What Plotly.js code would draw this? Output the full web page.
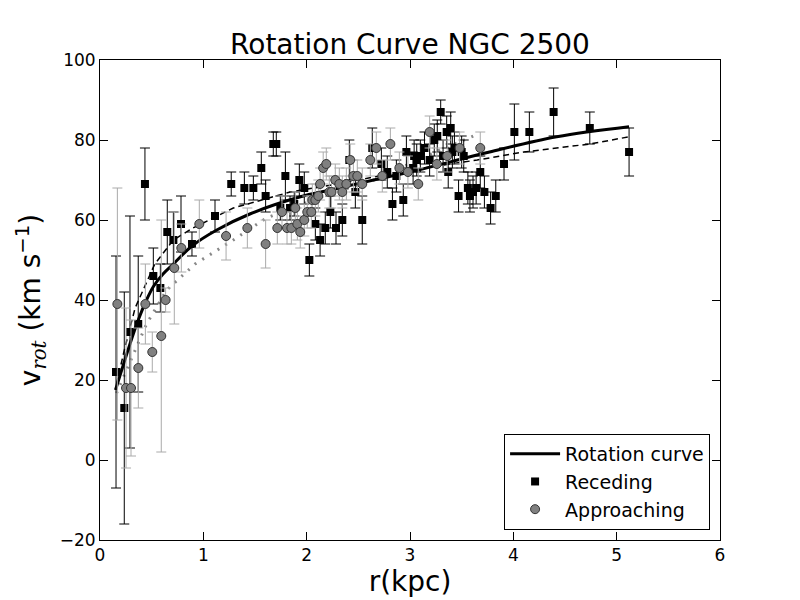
<!DOCTYPE html>
<html>
<head>
<meta charset="utf-8">
<script src="https://cdn.plot.ly/plotly-3.0.1.min.js"></script>
<style>
  html, body { margin: 0; padding: 0; background: #fff; }
  #graph { width: 800px; height: 600px; }
</style>
</head>
<body>
<div id="graph"></div>
<script>
// receding side (black squares)
var recR = [0.155, 0.235, 0.29, 0.37, 0.435, 0.516, 0.584, 0.651, 0.71, 0.784, 0.89,
  1.113, 1.27, 1.397, 1.484, 1.561, 1.603, 1.677, 1.706, 1.745, 1.794, 1.839, 1.88,
  1.929, 1.977, 2.026, 2.084, 2.13, 2.18, 2.229, 2.284, 2.345, 2.413, 2.471, 2.538,
  2.635, 2.723, 2.78, 2.83, 2.868, 2.935, 2.965, 3.03, 3.04, 3.065, 3.10, 3.14, 3.19,
  3.235, 3.264, 3.297, 3.32, 3.355, 3.37, 3.394, 3.41, 3.43, 3.47, 3.50, 3.52, 3.56,
  3.58, 3.61, 3.64, 3.68, 3.72, 3.78, 3.83, 3.91, 4.01, 4.155, 4.39, 4.74, 5.12];
var recV = [22, 13, 32, 34, 69, 46, 43, 57, 55, 59, 54,
  61, 69, 68, 68, 73, 66, 79, 79, 63, 71, 63, 64,
  70, 68, 50, 59, 55, 58, 62, 58, 60, 75, 67, 60,
  78, 74, 72, 64, 71, 65, 77, 73, 76, 75, 76, 78, 75,
  80, 81, 87, 76, 82, 72, 83, 77, 78, 66, 77, 76, 68,
  66, 67, 68, 72, 67, 63, 66, 74, 82, 82, 87, 83, 77];
var recErr = [29, 29, 29, 17, 9, 7, 6, 8, 7, 7, 3,
  4, 3, 4, 3, 4, 4, 3, 3, 3, 6, 3, 3,
  4, 4, 4, 4, 4, 4, 4, 4, 4, 5, 4, 6,
  5, 4, 4, 4, 4, 4, 4, 4, 4, 4, 4, 4, 4,
  4, 4, 3, 4, 4, 4, 4, 4, 4, 4, 4, 4, 4,
  4, 4, 4, 4, 4, 4, 4, 4, 7, 5, 6, 4, 6];

// approaching side (grey circles)
var appR = [0.168, 0.252, 0.30, 0.371, 0.439, 0.506, 0.593, 0.635, 0.719, 0.787, 0.961,
  1.22, 1.426, 1.603, 1.716, 1.761, 1.81, 1.852, 1.89, 1.91, 1.938, 1.977, 2.006,
  2.045, 2.055, 2.084, 2.113, 2.13, 2.16, 2.19, 2.219, 2.24, 2.277, 2.316, 2.345,
  2.384, 2.422, 2.452, 2.49, 2.538, 2.616, 2.674, 2.732, 2.81, 2.897, 2.98, 3.08,
  3.19, 3.26, 3.36, 3.48, 3.68];
var appV = [39, 18, 18, 23, 39, 27, 31, 40, 48, 53, 59,
  56, 58, 54, 58, 62, 58, 58, 63, 59, 57, 60, 62,
  62, 65, 65, 66, 69, 73, 74, 67, 67, 70, 69, 67,
  69, 75, 71, 71, 69, 75, 78, 71, 79, 73, 72, 69,
  82, 74, 76, 78, 78];
var appErr = [29, 20, 17, 10, 10, 5, 29, 3, 14, 6, 6,
  6, 5, 6, 4, 4, 4, 4, 4, 4, 4, 4, 4,
  4, 4, 4, 4, 4, 4, 4, 4, 4, 4, 4, 4,
  4, 4, 4, 4, 4, 4, 4, 4, 4, 4, 4, 4,
  4, 4, 4, 4, 4];

// fitted curves
var curveR = [0.15, 0.29, 0.37, 0.45, 0.52, 0.61, 0.71, 0.89, 1.13, 1.45, 1.94, 2.23, 2.68, 3.0, 3.4, 3.77, 4.42, 5.12];
var curveV = [17.5, 29, 35, 40, 43.5, 46.5, 49, 53.5, 57.5, 61.5, 65.8, 67.5, 70.2, 72, 74.6, 77, 80.8, 83.3];

var recFitR = [0.16, 0.19, 0.24, 0.34, 0.53, 0.71, 0.9, 1.29, 1.61, 1.84, 2.3, 2.7, 3.0, 3.65, 4.1, 4.74, 5.12];
var recFitV = [19, 22.5, 28, 38, 49, 55, 58, 63, 65.4, 67, 69, 71, 72.5, 75, 77, 79, 80.8];

var appFitR = [0.16, 0.32, 0.45, 0.645, 0.92, 1.29, 1.61, 2.16, 2.65, 3.29, 3.66];
var appFitV = [16.7, 26, 34, 42.5, 49, 55, 60.5, 66, 70, 77.5, 81.5];

var font = 'DejaVu Sans, sans-serif';

var traces = [
  {
    x: recFitR, y: recFitV, mode: 'lines', showlegend: false, hoverinfo: 'skip',
    line: {color: 'black', width: 1.5, dash: '6px,4px'}
  },
  {
    x: appFitR, y: appFitV, mode: 'lines', showlegend: false, hoverinfo: 'skip',
    line: {color: '#888888', width: 3, dash: '2px,7px'}
  },
  {
    x: curveR, y: curveV, mode: 'lines', name: 'Rotation curve',
    line: {color: 'black', width: 3, shape: 'spline'}
  },
  {
    x: recR, y: recV, mode: 'markers', name: 'Receding',
    marker: {symbol: 'square', size: 8, color: 'black'},
    error_y: {type: 'data', array: recErr, visible: true, color: 'black', thickness: 1, width: 5}
  },
  {
    x: appR, y: appV, mode: 'markers', name: 'Approaching',
    marker: {symbol: 'circle', size: 9, color: '#808080', line: {color: '#333333', width: 1}},
    error_y: {type: 'data', array: appErr, visible: true, color: '#aaaaaa', thickness: 1, width: 5}
  }
];

var layout = {
  width: 800,
  height: 600,
  paper_bgcolor: 'white',
  plot_bgcolor: 'white',
  font: {family: font, color: 'black', size: 16},
  margin: {l: 100, r: 80, t: 60, b: 60},
  title: {
    text: 'Rotation Curve NGC 2500',
    font: {family: font, size: 28, color: 'black'},
    x: 0.5125, xref: 'container', xanchor: 'center',
    y: 0.927, yref: 'container', yanchor: 'middle'
  },
  xaxis: {
    range: [0, 6], dtick: 1, tick0: 0,
    showgrid: false, zeroline: false,
    showline: true, linecolor: 'black', linewidth: 1, mirror: 'ticks',
    ticks: 'inside', ticklen: 8, tickwidth: 1, tickcolor: 'black',
    tickfont: {family: font, size: 17},
    title: {text: 'r(kpc)', font: {family: font, size: 28}, standoff: 6}
  },
  yaxis: {
    range: [-20, 100], dtick: 20, tick0: 0,
    showgrid: false, zeroline: false,
    showline: true, linecolor: 'black', linewidth: 1, mirror: 'ticks',
    ticks: 'inside', ticklen: 8, tickwidth: 1, tickcolor: 'black',
    tickfont: {family: font, size: 17},
    title: {
      text: 'v<sub><i><span style="font-family:DejaVu Serif">rot</span></i></sub> (km s<sup>−1</sup>)',
      font: {family: font, size: 28}, standoff: 10
    }
  },
  legend: {
    x: 0.984, y: 0.021, xanchor: 'right', yanchor: 'bottom',
    bgcolor: 'white', bordercolor: 'black', borderwidth: 1,
    font: {family: font, size: 19},
    itemwidth: 50,
    tracegroupgap: 0
  },
  showlegend: true
};

Plotly.newPlot('graph', traces, layout, {staticPlot: true});
</script>
</body>
</html>
